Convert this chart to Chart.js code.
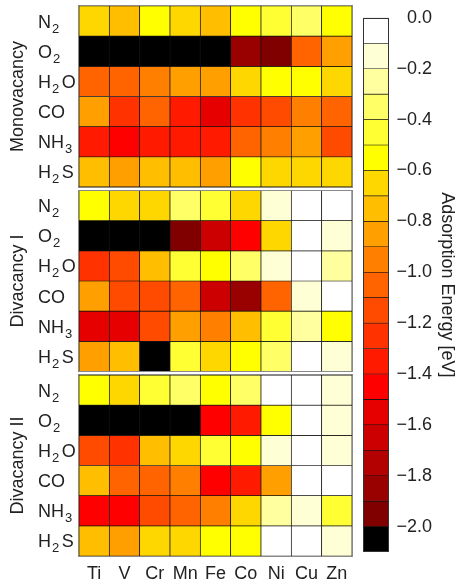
<!DOCTYPE html>
<html><head><meta charset="utf-8">
<script src="https://cdn.jsdelivr.net/npm/chart.js@4/dist/chart.umd.min.js"></script>
<style>
html,body{margin:0;padding:0;background:#fff;width:456px;height:587px;overflow:hidden}
canvas{position:absolute;top:0}
#main{left:0}
#cbar{left:355px}
</style></head><body>
<canvas id="main" width="360" height="587"></canvas>
<canvas id="cbar" width="101" height="587"></canvas>
<script>
// ---- data ----
const metals = ['Ti','V','Cr','Mn','Fe','Co','Ni','Cu','Zn'];
const molecules = ['N2','O2','H2O','CO','NH3','H2S'];
const panels = ['Monovacancy','Divacancy I','Divacancy II'];

const monovacancy = [
  [-0.65,-0.75,-0.55,-0.65,-0.75,-0.55,-0.45,-0.35,-0.55],
  [-2.2,-2.2,-2.2,-2.2,-2.2,-1.85,-1.95,-1.05,-0.85],
  [-1.05,-1.05,-0.95,-0.85,-0.85,-0.65,-0.55,-0.55,-0.65],
  [-0.85,-1.25,-1.05,-1.35,-1.55,-1.25,-1.15,-0.95,-1.05],
  [-1.35,-1.45,-1.35,-1.35,-1.35,-1.05,-0.95,-0.85,-1.15],
  [-0.75,-0.85,-0.75,-0.75,-0.85,-0.55,-0.65,-0.65,-0.65]
];
const divacancyI = [
  [-0.55,-0.65,-0.65,-0.35,-0.45,-0.65,-0.15,-0.05,-0.05],
  [-2.2,-2.2,-2.2,-1.95,-1.65,-1.45,-0.65,-0.05,-0.15],
  [-1.25,-1.15,-0.75,-0.45,-0.55,-0.35,-0.15,-0.05,-0.25],
  [-0.85,-1.15,-1.15,-1.05,-1.65,-1.85,-1.05,-0.15,-0.05],
  [-1.55,-1.55,-1.15,-0.85,-0.95,-0.75,-0.45,-0.25,-0.55],
  [-0.85,-0.75,-2.2,-0.45,-0.65,-0.55,-0.35,-0.05,-0.15]
];
const divacancyII = [
  [-0.55,-0.65,-0.45,-0.35,-0.55,-0.35,-0.05,-0.05,-0.15],
  [-2.2,-2.2,-2.2,-2.2,-1.45,-1.35,-0.55,-0.05,-0.15],
  [-1.15,-1.25,-0.75,-0.65,-0.45,-0.55,-0.15,-0.05,-0.15],
  [-0.75,-1.05,-1.05,-0.95,-1.45,-1.35,-0.85,-0.05,-0.05],
  [-1.45,-1.45,-1.15,-1.05,-0.95,-0.65,-0.25,-0.15,-0.45],
  [-0.75,-0.85,-0.65,-0.65,-0.55,-0.55,-0.05,-0.05,-0.15]
];

const binEdges = [0,-0.1,-0.2,-0.3,-0.4,-0.5,-0.6,-0.7,-0.8,-0.9,-1.0,-1.1,-1.2,-1.3,-1.4,-1.5,-1.6,-1.7,-1.8,-1.9,-2.0,-2.1];
const binColors = ['#ffffff','#ffffd6','#ffffa0','#ffff66','#ffff33','#ffff00','#ffd700','#ffbf00','#ffa000','#ff8000',
  '#ff6400','#ff4b00','#ff3200','#ff1a00','#ff0000','#e60000','#cc0000','#b30000','#990000','#800000','#000000'];
const cbTicks = [0,-0.2,-0.4,-0.6,-0.8,-1.0,-1.2,-1.4,-1.6,-1.8,-2.0];

// ---- helpers ----
const FAMILY = '"Liberation Sans", Arial, Helvetica, sans-serif';
const TEXT = '#222';
const GAP = 0.12;
function colorFor(v) {
  let i = Math.floor(-v / 0.1 + 1e-9);
  i = Math.max(0, Math.min(binColors.length - 1, i));
  return binColors[i];
}
function drawFormula(ctx, s, x, baseY) {
  const parts = s.match(/[A-Za-z]+|\d+/g);
  ctx.textAlign = 'left';
  ctx.textBaseline = 'alphabetic';
  parts.forEach((part) => {
    if (/\d/.test(part)) {
      ctx.font = '13px ' + FAMILY;
      x += 1;
      ctx.fillText(part, x, baseY + 5);
      x += ctx.measureText(part).width + 2.5;
    } else {
      ctx.font = '18px ' + FAMILY;
      ctx.fillText(part, x, baseY);
      x += ctx.measureText(part).width;
    }
  });
}

// ---- main heatmap ----
const panelData = [monovacancy, divacancyI, divacancyII];
const datasets = [];
panelData.forEach((grid, p) => {
  const base = (2 - p) * (6 + GAP);
  grid.forEach((rowVals, r) => {
    const y0 = base + (5 - r);
    datasets.push({
      label: panels[p] + ' ' + molecules[r],
      data: rowVals.map(() => [y0, y0 + 1]),
      backgroundColor: rowVals.map(colorFor),
      borderColor: '#111',
      borderWidth: 0.7,
      borderSkipped: false,
      barPercentage: 1,
      categoryPercentage: 1,
      grouped: false
    });
  });
});

const labelPlugin = {
  id: 'panelLabels',
  afterDraw(chart) {
    const ctx = chart.ctx, y = chart.scales.y, area = chart.chartArea;
    ctx.save();
    ctx.fillStyle = TEXT;
    panels.forEach((name, p) => {
      const base = (2 - p) * (6 + GAP);
      const top = y.getPixelForValue(base + 6), bot = y.getPixelForValue(base);
      ctx.strokeStyle = '#8a8a8a';
      ctx.lineWidth = 1;
      ctx.strokeRect(Math.round(area.left) - 0.5, Math.round(top) - 0.5,
        Math.round(area.right) - Math.round(area.left) + 1, Math.round(bot) - Math.round(top) + 1);
      ctx.save();
      ctx.translate(23, (top + bot) / 2);
      ctx.rotate(-Math.PI / 2);
      ctx.font = '18px ' + FAMILY;
      ctx.textAlign = 'center';
      ctx.textBaseline = 'alphabetic';
      ctx.fillText(name, 0, 0);
      ctx.restore();
      molecules.forEach((m, r) => {
        const yc = y.getPixelForValue(base + 5 - r + 0.5);
        drawFormula(ctx, m, 38, yc + 6.5);
      });
    });
    ctx.restore();
  }
};

new Chart(document.getElementById('main'), {
  type: 'bar',
  data: { labels: metals, datasets },
  options: {
    responsive: false,
    animation: false,
    events: [],
    layout: { padding: { left: 79, right: 8, top: 6, bottom: 0 } },
    plugins: { legend: { display: false }, tooltip: { enabled: false } },
    scales: {
      x: {
        type: 'category',
        offset: true,
        grid: { display: false, drawTicks: false },
        border: { display: false },
        ticks: { color: TEXT, font: { size: 18, family: FAMILY }, padding: 7, maxRotation: 0, autoSkip: false },
        afterFit: (s) => { s.height = 31; }
      },
      y: {
        type: 'linear',
        display: false,
        min: 0,
        max: 18 + 2 * GAP
      }
    }
  },
  plugins: [labelPlugin]
});

// ---- colorbar ----
const cbDatasets = binColors.map((c, i) => ({
  label: 'bin' + i,
  data: [[binEdges[i + 1], binEdges[i]]],
  backgroundColor: c,
  borderColor: '#111',
  borderWidth: 0.6,
  borderSkipped: false,
  barPercentage: 1,
  categoryPercentage: 1,
  grouped: false
}));

const cbFrame = {
  id: 'cbFrame',
  afterDatasetsDraw(chart) {
    const a = chart.chartArea, ctx = chart.ctx;
    ctx.save();
    ctx.strokeStyle = '#333';
    ctx.lineWidth = 1;
    ctx.strokeRect(Math.round(a.left) + 0.5, Math.round(a.top) + 0.5,
      Math.round(a.right) - Math.round(a.left) - 1, Math.round(a.bottom) - Math.round(a.top) - 1);
    ctx.restore();
  }
};

new Chart(document.getElementById('cbar'), {
  type: 'bar',
  data: { labels: ['E'], datasets: cbDatasets },
  options: {
    responsive: false,
    animation: false,
    events: [],
    layout: { padding: { left: 8, right: 24, top: 17, bottom: 35 } },
    plugins: { legend: { display: false }, tooltip: { enabled: false } },
    scales: {
      x: { display: false },
      y: {
        type: 'linear',
        position: 'right',
        min: -2.1,
        max: 0,
        afterBuildTicks: (s) => { s.ticks = cbTicks.map(v => ({ value: v })); },
        afterFit: (s) => { s.width = 43; },
        grid: { display: false, drawTicks: false },
        border: { display: false },
        ticks: {
          color: TEXT,
          font: { size: 18, family: FAMILY },
          padding: 7,
          crossAlign: 'far',
          autoSkip: false,
          callback: (v) => Math.abs(v) < 1e-9 ? '0.0' : '\u2212' + Math.abs(v).toFixed(1)
        },
        title: {
          display: true,
          text: 'Adsorption Energy [eV]',
          color: TEXT,
          font: { size: 18, family: FAMILY, lineHeight: 1 },
          padding: { top: -24, bottom: 0 }
        }
      }
    }
  },
  plugins: [cbFrame]
});
</script>
</body></html>
